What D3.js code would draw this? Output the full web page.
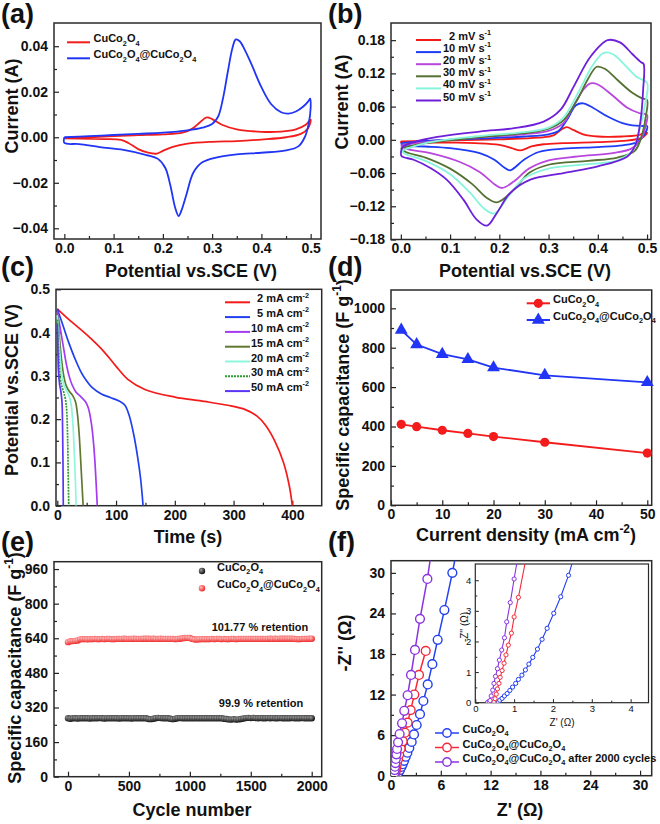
<!DOCTYPE html>
<html><head><meta charset="utf-8">
<script src="https://cdn.jsdelivr.net/npm/d3@7"></script>
<style>
body{margin:0;background:#fff}
svg{display:block}
text{font-family:"Liberation Sans",Arial,sans-serif;font-weight:bold;fill:#111}
</style></head>
<body><svg id="c" width="660" height="824"></svg>
<script>
// ---------------- DATA ----------------
// (a) CV at 2 mV/s, [potential V, current A], loop forward then reverse
const aCu = [[0.0,-0.0005],[0.05,0.0],[0.1,0.0005],[0.15,0.0009],[0.2,0.0013],[0.24,0.002],[0.26,0.0038],[0.275,0.0065],[0.289,0.0087],[0.30,0.008],[0.32,0.0055],[0.35,0.0035],[0.4,0.0024],[0.44,0.0025],[0.47,0.0035],[0.49,0.0055],[0.5,0.0078],
  [0.495,0.004],[0.48,0.0015],[0.45,0.0],[0.4,-0.001],[0.35,-0.0017],[0.3,-0.002],[0.25,-0.0028],[0.22,-0.0042],[0.2,-0.006],[0.188,-0.0072],[0.17,-0.0068],[0.15,-0.0052],[0.13,-0.0025],[0.115,-0.0012],[0.08,-0.0008],[0.0,-0.0005]];
const aCore = [[0.0,0.0],[0.05,0.0005],[0.1,0.001],[0.15,0.0015],[0.2,0.002],[0.25,0.003],[0.28,0.0042],[0.30,0.0058],[0.312,0.009],[0.322,0.017],[0.332,0.029],[0.341,0.039],[0.348,0.043],[0.356,0.0422],[0.366,0.0385],[0.38,0.032],[0.40,0.022],[0.42,0.0145],[0.44,0.011],[0.455,0.0104],[0.47,0.0113],[0.485,0.0135],[0.496,0.016],[0.499,0.017],[0.5,0.013],
  [0.496,0.006],[0.488,0.0],[0.475,-0.004],[0.45,-0.0058],[0.4,-0.0068],[0.35,-0.0075],[0.31,-0.0088],[0.28,-0.011],[0.262,-0.0155],[0.248,-0.025],[0.238,-0.032],[0.232,-0.0346],[0.225,-0.031],[0.215,-0.021],[0.205,-0.0135],[0.19,-0.0095],[0.167,-0.0078],[0.12,-0.0055],[0.072,-0.0043],[0.03,-0.003],[0.0,-0.0025],[0.0,0.0]];

// (b) CV at different scan rates
const bRates = ["2","10","20","30","40","50"];
const b2 = [[0.0,-0.003],[0.1,-0.001],[0.2,0.001],[0.28,0.004],[0.31,0.008],[0.325,0.018],[0.337,0.023],[0.35,0.018],[0.37,0.01],[0.4,0.006],[0.45,0.006],[0.48,0.008],[0.5,0.013],
  [0.49,0.004],[0.45,-0.002],[0.4,-0.004],[0.33,-0.006],[0.29,-0.008],[0.265,-0.012],[0.243,-0.019],[0.225,-0.015],[0.2,-0.009],[0.15,-0.006],[0.1,-0.005],[0.0,-0.004],[0.0,-0.003]];
const b10 = [[0.0,-0.006],[0.05,-0.002],[0.15,0.002],[0.25,0.006],[0.3,0.01],[0.32,0.016],[0.34,0.04],[0.355,0.062],[0.37,0.066],[0.39,0.058],[0.42,0.042],[0.45,0.03],[0.47,0.026],[0.49,0.025],[0.5,0.025],
  [0.495,0.01],[0.48,-0.004],[0.45,-0.01],[0.4,-0.013],[0.33,-0.016],[0.28,-0.022],[0.25,-0.036],[0.222,-0.055],[0.21,-0.05],[0.19,-0.036],[0.16,-0.024],[0.1,-0.015],[0.05,-0.012],[0.005,-0.01],[0.0,-0.006]];
const b20 = [[0.0,-0.01],[0.05,-0.004],[0.15,0.004],[0.25,0.01],[0.3,0.016],[0.33,0.03],[0.35,0.06],[0.37,0.09],[0.385,0.102],[0.4,0.1],[0.43,0.08],[0.46,0.058],[0.485,0.048],[0.5,0.045],
  [0.497,0.025],[0.49,0.005],[0.47,-0.015],[0.43,-0.024],[0.36,-0.03],[0.3,-0.037],[0.26,-0.052],[0.23,-0.075],[0.205,-0.087],[0.19,-0.08],[0.16,-0.058],[0.12,-0.04],[0.06,-0.024],[0.01,-0.016],[0.0,-0.01]];
const b30 = [[0.0,-0.015],[0.05,-0.006],[0.15,0.004],[0.25,0.012],[0.3,0.02],[0.33,0.035],[0.36,0.075],[0.38,0.11],[0.398,0.132],[0.415,0.128],[0.44,0.108],[0.47,0.085],[0.49,0.075],[0.5,0.072],
  [0.497,0.04],[0.49,0.01],[0.475,-0.02],[0.44,-0.032],[0.38,-0.038],[0.3,-0.045],[0.26,-0.06],[0.23,-0.09],[0.195,-0.113],[0.175,-0.105],[0.145,-0.08],[0.1,-0.052],[0.05,-0.032],[0.01,-0.022],[0.0,-0.015]];
const b40 = [[0.0,-0.02],[0.05,-0.006],[0.15,0.006],[0.25,0.014],[0.3,0.022],[0.33,0.04],[0.36,0.085],[0.39,0.135],[0.412,0.157],[0.43,0.155],[0.455,0.135],[0.48,0.113],[0.5,0.103],
  [0.495,0.06],[0.485,0.02],[0.47,-0.02],[0.44,-0.037],[0.38,-0.044],[0.3,-0.052],[0.25,-0.07],[0.22,-0.1],[0.19,-0.133],[0.17,-0.125],[0.14,-0.095],[0.1,-0.062],[0.05,-0.038],[0.01,-0.026],[0.0,-0.02]];
const b50 = [[0.0,-0.025],[0.005,-0.012],[0.06,0.003],[0.16,0.015],[0.23,0.021],[0.29,0.033],[0.324,0.054],[0.351,0.096],[0.385,0.15],[0.42,0.18],[0.445,0.176],[0.47,0.155],[0.488,0.14],[0.493,0.137],
  [0.492,0.09],[0.486,0.03],[0.476,-0.01],[0.46,-0.03],[0.4,-0.048],[0.33,-0.06],[0.263,-0.072],[0.222,-0.096],[0.195,-0.132],[0.175,-0.155],[0.154,-0.144],[0.127,-0.108],[0.093,-0.072],[0.06,-0.051],[0.026,-0.036],[0.002,-0.03],[0.0,-0.025]];

// (c) discharge curves [time s, potential V]
const cDens = ["2","5","10","15","20","30","50"];
const c2 = [[0,0.455],[20,0.43],[50,0.395],[80,0.355],[100,0.322],[120,0.292],[150,0.268],[200,0.251],[250,0.241],[290,0.232],[320,0.222],[340,0.207],[355,0.185],[370,0.15],[385,0.1],[395,0.045],[400,0]];
const c5 = [[0,0.455],[10,0.415],[20,0.375],[30,0.34],[40,0.31],[50,0.288],[60,0.272],[75,0.258],[90,0.25],[105,0.242],[115,0.232],[122,0.21],[130,0.165],[137,0.11],[142,0.06],[146,0]];
const c10 = [[0,0.45],[5,0.41],[10,0.37],[15,0.33],[20,0.3],[25,0.28],[32,0.262],[40,0.252],[48,0.24],[53,0.225],[58,0.19],[62,0.14],[65,0.08],[68,0]];
const c15 = [[0,0.44],[3,0.4],[7,0.34],[11,0.3],[15,0.278],[20,0.265],[26,0.255],[31,0.24],[34,0.215],[37,0.17],[40,0.1],[42,0.05],[44,0]];
const c20 = [[0,0.44],[2,0.4],[5,0.34],[8,0.3],[11,0.28],[16,0.265],[21,0.25],[24,0.23],[27,0.18],[29,0.12],[31,0.05],[32,0]];
const c30 = [[0,0.43],[1.5,0.38],[3.5,0.32],[5.5,0.29],[8,0.275],[11,0.262],[14,0.245],[16,0.22],[17.5,0.16],[18.5,0.08],[19.5,0]];
const c50 = [[0,0.42],[1,0.36],[2,0.31],[4,0.28],[6,0.265],[8,0.24],[9,0.18],[9.7,0.1],[10.2,0]];

// (d) rate capability
const dCurrent = [2,5,10,15,20,30,50];
const dCu = [411,399,381,365,349,320,265];
const dCore = [890,816,767,741,699,660,624];

// (e) cycling
const eCycle = d3.range(0, 2001, 20);
const eCu = [270,268,270,270,269,270,270,270,270,269,
 270,270,270,271,270,269,270,270,270,270,
 270,269,270,270,270,270,269,270,270,270,
 270,270,270,267,266,268,270,272,271,270,
 270,270,268,266,268,270,271,270,270,270,
 270,270,270,270,270,270,270,270,270,270,
 270,270,270,270,268,267,265,264,266,264,
 265,267,269,271,272,271,272,271,270,271,
 270,270,271,270,271,270,270,271,270,270,
 270,270,271,270,270,270,271,270,270,270,270];
const eCore = [622,626,627,628,630,635,636,636,635,636,
 636,637,636,636,637,636,637,637,636,636,
 637,637,637,638,637,637,637,638,637,637,
 637,638,638,638,637,638,637,637,638,637,
 637,637,637,637,636,637,638,640,641,642,
 641,637,634,634,635,636,636,636,636,637,
 636,637,637,636,637,636,636,637,637,636,
 637,637,637,637,637,637,637,637,637,637,
 637,637,637,638,637,638,637,638,638,638,
 638,638,638,637,636,636,637,637,637,638,638];

// (f) Nyquist [Z', -Z'']
const fCu = [[0.62,0.1],[0.72,0.2],[0.88,0.44],[1.08,0.84],[1.25,1.3],[1.4,1.7],[1.57,2.2],[1.77,2.8],[1.97,3.4],[2.2,4.1],[2.49,5.0],[2.77,6.1],[3.09,7.5],[3.49,9.1],[3.9,11.05],[4.42,13.5],[4.98,16.5],[5.62,20.1],[6.43,24.5],[7.39,30.0],[7.8,32.6]];
const fCore = [[0.48,0.1],[0.52,0.35],[0.57,0.74],[0.64,1.2],[0.72,1.8],[0.84,2.4],[0.98,3.15],[1.16,4.0],[1.41,5.1],[1.69,6.35],[2.0,7.85],[2.37,9.7],[2.81,12.0],[3.37,14.9],[4.18,18.45]];
const fCyc = [[0.36,0.1],[0.4,0.44],[0.44,0.84],[0.48,1.33],[0.53,1.87],[0.58,2.47],[0.65,3.16],[0.73,3.95],[0.85,4.93],[1.04,6.17],[1.33,7.75],[1.6,9.6],[2.0,11.9],[2.41,14.9],[2.89,18.6],[3.49,23.2],[4.38,29.1],[4.85,33]];
const iCu = [[0.59,0.02],[0.63,0.08],[0.69,0.14],[0.75,0.22],[0.82,0.3],[0.89,0.4],[0.96,0.51],[1.04,0.63],[1.11,0.76],[1.2,0.9],[1.29,1.07],[1.38,1.26],[1.48,1.48],[1.6,1.75],[1.72,2.07],[1.85,2.43],[2.02,2.92],[2.2,3.46],[2.4,4.16],[2.55,4.8]];
const iCore = [[0.48,0.02],[0.51,0.13],[0.54,0.28],[0.57,0.45],[0.61,0.63],[0.64,0.83],[0.69,1.05],[0.74,1.29],[0.79,1.56],[0.85,1.88],[0.93,2.27],[1.0,2.8],[1.11,3.44],[1.32,4.8]];
const iCyc = [[0.32,0.02],[0.36,0.03],[0.38,0.07],[0.41,0.22],[0.45,0.41],[0.48,0.63],[0.52,0.86],[0.57,1.11],[0.62,1.39],[0.68,1.72],[0.75,2.12],[0.81,2.64],[0.9,3.27],[1.0,4.04],[1.1,4.8]];

// ---------------- HELPERS ----------------
const svg = d3.select('#c');
const defs = svg.append('defs');
let clipId = 0;

function rich(sel, str, size) {
  const parts = str.split(/(_\{[^}]*\}|\^\{[^}]*\})/).filter(s => s.length);
  let shift = 0;
  parts.forEach(p => {
    let target = 0, fs = size, txt = p;
    if (p.startsWith('_{')) { target = 0.3 * size; fs = size * 0.66; txt = p.slice(2, -1); }
    else if (p.startsWith('^{')) { target = -0.42 * size; fs = size * 0.66; txt = p.slice(2, -1); }
    sel.append('tspan').attr('dy', target - shift).style('font-size', fs + 'px').text(txt);
    shift = target;
  });
  return sel;
}

function panel(o) {
  const g = svg.append('g');
  const x = d3.scaleLinear().domain(o.xd).range([o.l, o.r]);
  const y = d3.scaleLinear().domain(o.yd).range([o.b, o.t]);
  const fs = o.tickFont || 14;
  const major = o.majorLen || 5, minor = o.minorLen || 3;
  g.append('rect').attr('x', o.l).attr('y', o.t).attr('width', o.r - o.l).attr('height', o.b - o.t)
    .attr('fill', '#fff');
  const ax = [];
  ax.push(g.append('g').attr('transform', `translate(0,${o.b})`)
    .call(d3.axisBottom(x).tickValues(o.xminor).tickSize(-minor).tickFormat('')));
  ax.push(g.append('g').attr('transform', `translate(0,${o.b})`)
    .call(d3.axisBottom(x).tickValues(o.xticks).tickSize(-major).tickPadding(o.xpad || 4).tickFormat(o.xfmt)));
  ax.push(g.append('g').attr('transform', `translate(${o.l},0)`)
    .call(d3.axisLeft(y).tickValues(o.yminor).tickSize(-minor).tickFormat('')));
  ax.push(g.append('g').attr('transform', `translate(${o.l},0)`)
    .call(d3.axisLeft(y).tickValues(o.yticks).tickSize(-major).tickPadding(o.ypad || 6).tickFormat(o.yfmt)));
  ax.forEach(a => {
    a.select('.domain').remove();
    a.selectAll('line').attr('stroke', '#222').attr('stroke-width', o.tickW || 1.2);
    a.selectAll('text').style('font-size', fs + 'px').style('font-weight', o.tickWeight || 'bold')
      .attr('fill', '#111').style('font-family', '"Liberation Sans",Arial,sans-serif');
  });
  g.append('rect').attr('x', o.l).attr('y', o.t).attr('width', o.r - o.l).attr('height', o.b - o.t)
    .attr('fill', 'none').attr('stroke', '#2a2a2a').attr('stroke-width', o.frameW || 1.5);
  const id = 'clip' + (clipId++);
  defs.append('clipPath').attr('id', id).append('rect')
    .attr('x', o.l).attr('y', o.t).attr('width', o.r - o.l).attr('height', o.b - o.t);
  const data = g.append('g').attr('clip-path', `url(#${id})`);
  if (o.xtitle) {
    const t = g.append('text').attr('x', o.xtx).attr('y', o.xty).attr('text-anchor', 'middle');
    rich(t, o.xtitle, o.titleFont || 18);
  }
  if (o.ytitle) {
    const t = g.append('text').attr('transform', `translate(${o.ytx},${o.yty}) rotate(-90)`).attr('text-anchor', 'middle');
    rich(t, o.ytitle, o.titleFont || 18);
  }
  if (o.label) {
    g.append('text').attr('x', o.lx).attr('y', o.ly).style('font-size', '27px').text(o.label);
  }
  return { g, x, y, data };
}

const f2 = d3.format('.2f'), f1 = d3.format('.1f'), fd = d3.format('d');
const loop = (p) => d3.line().x(d => p.x(d[0])).y(d => p.y(d[1])).curve(d3.curveCatmullRom.alpha(0.5));
const straight = (p) => d3.line().x(d => p.x(d[0])).y(d => p.y(d[1]));

function legendLine(g, x1, x2, y, color, dash, w) {
  g.append('line').attr('x1', x1).attr('x2', x2).attr('y1', y).attr('y2', y)
    .attr('stroke', color).attr('stroke-width', w || 2).attr('stroke-dasharray', dash || null);
}
function legendText(g, x, y, str, size, anchor) {
  const t = g.append('text').attr('x', x).attr('y', y).attr('dy', '0.35em').attr('text-anchor', anchor || 'start');
  rich(t, str, size);
}

const RED = '#f21c1c', BLUE = '#2035f5';

// ---------------- PANEL A ----------------
{
  const p = panel({ l: 54, r: 321, t: 23, b: 239, xd: [-0.021, 0.521], yd: [-0.0447, 0.0502],
    xticks: [0, 0.1, 0.2, 0.3, 0.4, 0.5], xminor: [0.05, 0.15, 0.25, 0.35, 0.45], xfmt: f1,
    yticks: [-0.04, -0.02, 0, 0.02, 0.04], yminor: [-0.03, -0.01, 0.01, 0.03], yfmt: f2,
    xtitle: 'Potential vs.SCE (V)', xtx: 191, xty: 277, ytitle: 'Current (A)', ytx: 18, yty: 106,
    label: '(a)', lx: 1, ly: 23 });
  p.data.append('path').datum(aCu).attr('d', loop(p)).attr('fill', 'none').attr('stroke', RED).attr('stroke-width', 1.8);
  p.data.append('path').datum(aCore).attr('d', loop(p)).attr('fill', 'none').attr('stroke', BLUE).attr('stroke-width', 1.8);
  legendLine(p.g, 67, 90, 42.3, RED);
  legendText(p.g, 93.5, 42.3, 'CuCo_{2}O_{4}', 11);
  legendLine(p.g, 67, 90, 58.3, BLUE);
  legendText(p.g, 93.5, 58.3, 'CuCo_{2}O_{4}@CuCo_{2}O_{4}', 11);
}

// ---------------- PANEL B ----------------
{
  const p = panel({ l: 391, r: 651, t: 23, b: 239.5, xd: [-0.02, 0.508], yd: [-0.18, 0.211],
    xticks: [0, 0.1, 0.2, 0.3, 0.4, 0.5], xminor: [0.05, 0.15, 0.25, 0.35, 0.45], xfmt: f1,
    yticks: [-0.18, -0.12, -0.06, 0, 0.06, 0.12, 0.18], yminor: [-0.15, -0.09, -0.03, 0.03, 0.09, 0.15], yfmt: f2,
    xtitle: 'Potential vs.SCE (V)', xtx: 525, xty: 277, ytitle: 'Current (A)', ytx: 348, yty: 102,
    label: '(b)', lx: 328, ly: 23 });
  const series = [b2, b10, b20, b30, b40, b50];
  const cols = ['#f41a1a', '#1e3cf5', '#b947df', '#557233', '#86f5dc', '#6d1fd9'];
  series.forEach((s, i) => {
    p.data.append('path').datum(s).attr('d', loop(p)).attr('fill', 'none').attr('stroke', cols[i]).attr('stroke-width', 1.8);
  });
  bRates.forEach((r, i) => {
    const yy = 40 + i * 12.1;
    legendLine(p.g, 416, 441, yy, cols[i]);
    legendText(p.g, 491, yy, r + ' mV s^{-1}', 11, 'end');
  });
}

// ---------------- PANEL C ----------------
{
  const p = panel({ l: 56, r: 321.7, t: 289.3, b: 505.7, xd: [-2.2, 450], yd: [0, 0.5],
    xticks: [0, 100, 200, 300, 400], xminor: [50, 150, 250, 350], xfmt: fd,
    yticks: [0, 0.1, 0.2, 0.3, 0.4, 0.5], yminor: [0.05, 0.15, 0.25, 0.35, 0.45], yfmt: f1,
    xtitle: 'Time (s)', xtx: 188, xty: 543, ytitle: 'Potential vs.SCE (V)', ytx: 18, yty: 390,
    label: '(c)', lx: 1, ly: 276 });
  const series = [c2, c5, c10, c15, c20, c30, c50];
  const cols = ['#f41a1a', '#2040f0', '#a43bf0', '#5f7a30', '#8df7dd', '#2c9a2c', '#5a35f5'];
  const dashes = [null, null, null, null, null, '2,1', null];
  series.forEach((s, i) => {
    p.data.append('path').datum(s).attr('d', loop(p)).attr('fill', 'none').attr('stroke', cols[i])
      .attr('stroke-width', 1.7).attr('stroke-dasharray', dashes[i]);
  });
  cDens.forEach((d, i) => {
    const yy = 302.3 + i * 14.8;
    legendLine(p.g, 225, 250, yy, cols[i], dashes[i]);
    legendText(p.g, 309, yy, d + ' mA cm^{-2}', 11, 'end');
  });
}

// ---------------- PANEL D ----------------
{
  const p = panel({ l: 391, r: 651.7, t: 290, b: 505.3, xd: [0, 50.86], yd: [0, 1093],
    xticks: [0, 10, 20, 30, 40, 50], xminor: [5, 15, 25, 35, 45], xfmt: fd,
    yticks: [0, 200, 400, 600, 800, 1000], yminor: [100, 300, 500, 700, 900], yfmt: fd,
    xtitle: 'Current density (mA cm^{-2})', xtx: 526, xty: 541, ytitle: 'Specific capacitance (F g^{-1})', ytx: 349, yty: 395,
    label: '(d)', lx: 328, ly: 276 });
  const rows = dCurrent.map((c, i) => ({ c, a: dCu[i], b: dCore[i] }));
  const lr = d3.line().x(d => p.x(d.c)).y(d => p.y(d.a));
  const lb = d3.line().x(d => p.x(d.c)).y(d => p.y(d.b));
  p.g.append('path').datum(rows).attr('d', lr).attr('fill', 'none').attr('stroke', RED).attr('stroke-width', 1.8);
  p.g.append('path').datum(rows).attr('d', lb).attr('fill', 'none').attr('stroke', BLUE).attr('stroke-width', 1.8);
  p.g.selectAll('.dc').data(rows).join('circle').attr('cx', d => p.x(d.c)).attr('cy', d => p.y(d.a)).attr('r', 4.6).attr('fill', RED);
  const tri = d3.symbol().type(d3.symbolTriangle).size(72);
  p.g.selectAll('.dt').data(rows).join('path').attr('d', tri).attr('transform', d => `translate(${p.x(d.c)},${p.y(d.b)})`).attr('fill', BLUE);
  legendLine(p.g, 526.7, 550, 303.3, RED);
  p.g.append('circle').attr('cx', 538.3).attr('cy', 303.3).attr('r', 4.6).attr('fill', RED);
  legendText(p.g, 553, 303.3, 'CuCo_{2}O_{4}', 11);
  legendLine(p.g, 526.7, 550, 320, BLUE);
  p.g.append('path').attr('d', tri).attr('transform', 'translate(538.3,320)').attr('fill', BLUE);
  legendText(p.g, 553, 320, 'CuCo_{2}O_{4}@CuCo_{2}O_{4}', 11);
}

// ---------------- PANEL E ----------------
{
  const gb = defs.append('radialGradient').attr('id', 'gBlack').attr('cx', '35%').attr('cy', '35%').attr('r', '65%');
  gb.append('stop').attr('offset', '0%').attr('stop-color', '#9a9a9a');
  gb.append('stop').attr('offset', '100%').attr('stop-color', '#111');
  const gr = defs.append('radialGradient').attr('id', 'gRed').attr('cx', '35%').attr('cy', '35%').attr('r', '65%');
  gr.append('stop').attr('offset', '0%').attr('stop-color', '#ffc0c0');
  gr.append('stop').attr('offset', '100%').attr('stop-color', '#ee2a2a');
  const p = panel({ l: 54, r: 321.7, t: 561.7, b: 776.7, xd: [-115, 2082], yd: [0, 994],
    xticks: [0, 500, 1000, 1500, 2000], xminor: [250, 750, 1250, 1750], xfmt: fd,
    yticks: [0, 160, 320, 480, 640, 800, 960], yminor: [80, 240, 400, 560, 720, 880], yfmt: fd,
    xtitle: 'Cycle number', xtx: 192, xty: 816, ytitle: 'Specific capacitance (F g^{-1})', ytx: 21, yty: 668,
    label: '(e)', lx: 1, ly: 551 });
  p.data.selectAll('.eb').data(eCycle).join('circle').attr('cx', d => p.x(d)).attr('cy', (d, i) => p.y(eCu[i]))
    .attr('r', 3.2).attr('fill', 'url(#gBlack)');
  p.data.selectAll('.er').data(eCycle).join('circle').attr('cx', d => p.x(d)).attr('cy', (d, i) => p.y(eCore[i]))
    .attr('r', 3.2).attr('fill', 'url(#gRed)');
  p.g.append('circle').attr('cx', 202).attr('cy', 571).attr('r', 3.2).attr('fill', 'url(#gBlack)');
  legendText(p.g, 217, 571, 'CuCo_{2}O_{4}', 11);
  p.g.append('circle').attr('cx', 202).attr('cy', 588.3).attr('r', 3.2).attr('fill', 'url(#gRed)');
  legendText(p.g, 217, 588.3, 'CuCo_{2}O_{4}@CuCo_{2}O_{4}', 11);
  p.g.append('text').attr('x', 260).attr('y', 631).attr('text-anchor', 'middle').style('font-size', '11px').text('101.77 % retention');
  p.g.append('text').attr('x', 261).attr('y', 707).attr('text-anchor', 'middle').style('font-size', '11px').text('99.9 % retention');
}

// ---------------- PANEL F ----------------
{
  const cols = ['#2440f0', '#f42a3a', '#8a34e0'];
  const p = panel({ l: 391, r: 651.7, t: 560.7, b: 775.7, xd: [0, 31.4], yd: [0, 31.8],
    xticks: [0, 6, 12, 18, 24, 30], xminor: [3, 9, 15, 21, 27], xfmt: fd,
    yticks: [0, 6, 12, 18, 24, 30], yminor: [3, 9, 15, 21, 27], yfmt: fd,
    xtitle: "Z' (Ω)", xtx: 520, xty: 816, ytitle: "-Z'' (Ω)", ytx: 351, yty: 643,
    label: '(f)', lx: 328, ly: 551 });
  [fCu, fCore, fCyc].forEach((s, i) => {
    p.data.append('path').datum(s).attr('d', straight(p)).attr('fill', 'none').attr('stroke', cols[i]).attr('stroke-width', 1.5);
    p.data.selectAll('.m' + i).data(s).join('circle').attr('cx', d => p.x(d[0])).attr('cy', d => p.y(d[1]))
      .attr('r', 4.4).attr('fill', '#fff').attr('stroke', cols[i]).attr('stroke-width', 1.4);
  });
  // inset
  const q = panel({ l: 475.3, r: 648.5, t: 564, b: 702.7, xd: [0, 4.46], yd: [0, 4.53],
    xticks: [0, 1, 2, 3, 4], xminor: [0.5, 1.5, 2.5, 3.5], xfmt: fd,
    yticks: [0, 1, 2, 3, 4], yminor: [0.5, 1.5, 2.5, 3.5], yfmt: fd,
    tickFont: 9.5, tickWeight: 'normal', majorLen: 3.5, minorLen: 2, xpad: 3, ypad: 4, tickW: 1, frameW: 1.2,
    xtitle: "Z' (Ω)", xtx: 562, xty: 726, ytitle: "-Z'' (Ω)", ytx: 468, yty: 627, titleFont: 10 });
  q.g.selectAll('text').filter(function () { return this.parentNode === q.g.node(); }).style('font-weight', 'normal');
  [iCu, iCore, iCyc].forEach((s, i) => {
    q.data.append('path').datum(s).attr('d', straight(q)).attr('fill', 'none').attr('stroke', cols[i]).attr('stroke-width', 1.1);
    q.data.selectAll('.n' + i).data(s).join('circle').attr('cx', d => q.x(d[0])).attr('cy', d => q.y(d[1]))
      .attr('r', 2.1).attr('fill', '#fff').attr('stroke', cols[i]).attr('stroke-width', 1);
  });
  const names = ['CuCo_{2}O_{4}', 'CuCo_{2}O_{4}@CuCo_{2}O_{4}', 'CuCo_{2}O_{4}@CuCo_{2}O_{4} after 2000 cycles'];
  names.forEach((n, i) => {
    const yy = 733 + i * 14.5;
    legendLine(p.g, 435, 459, yy, cols[i], null, 1.5);
    p.g.append('circle').attr('cx', 447).attr('cy', yy).attr('r', 4.2).attr('fill', '#fff').attr('stroke', cols[i]).attr('stroke-width', 1.4);
    legendText(p.g, 462.5, yy, n, 11);
  });
}
</script>
</body></html>
